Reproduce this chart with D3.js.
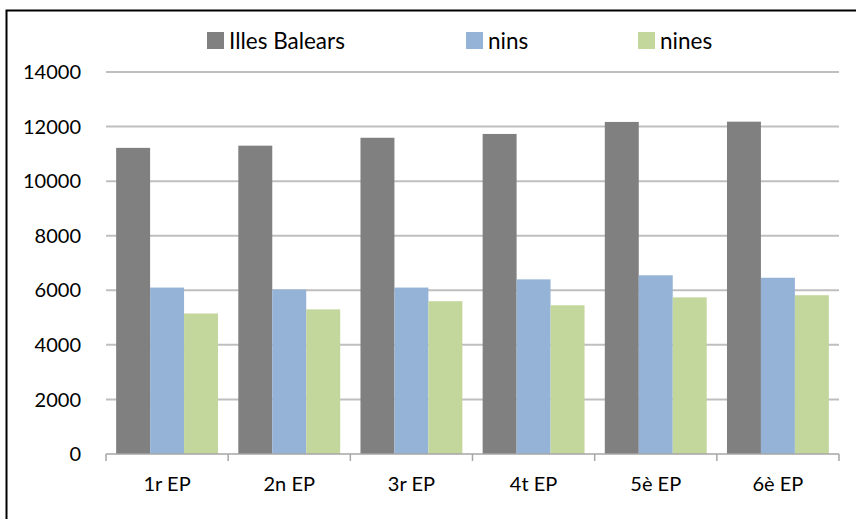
<!DOCTYPE html>
<html>
<head>
<meta charset="utf-8">
<script src="https://cdn.jsdelivr.net/npm/d3@7"></script>
<style>
  html, body { margin: 0; padding: 0; background: #fff; }
  svg { display: block; }
  text { font-family: Lato, "Open Sans", sans-serif; fill: #000; }
</style>
</head>
<body>
<svg id="chart" width="856" height="519"></svg>
<script>
const categories = ["1r EP", "2n EP", "3r EP", "4t EP", "5è EP", "6è EP"];
const seriesNames = ["Illes Balears", "nins", "nines"];
const illesBalears = [11220, 11300, 11590, 11730, 12170, 12180];
const nins = [6100, 6030, 6100, 6400, 6550, 6460];
const nines = [5150, 5300, 5600, 5450, 5740, 5820];
const yTicks = [0, 2000, 4000, 6000, 8000, 10000, 12000, 14000];
const colors = ["#808080", "#95B3D7", "#C3D69B"];

(function () {
const seriesValues = [illesBalears, nins, nines];
const data = categories.map((c, i) => ({
  cat: c,
  vals: seriesNames.map((s, j) => ({ key: s, value: seriesValues[j][i], color: colors[j] }))
}));

const svg = d3.select("#chart");

// outer border
svg.append("rect")
  .attr("x", 6.5).attr("y", 10.5)
  .attr("width", 860).attr("height", 520)
  .attr("fill", "none").attr("stroke", "#000").attr("stroke-width", 2);

const mLeft = 106, mRight = 839, mTop = 72, mBottom = 454;

const x0 = d3.scaleBand().domain(categories).range([mLeft, mRight])
  .paddingInner(0.166).paddingOuter(0.083);
const x1 = d3.scaleBand().domain(seriesNames).range([0, x0.bandwidth()]);
const y = d3.scaleLinear().domain([0, 14000]).range([mBottom, mTop]);

// gridlines
svg.append("g")
  .selectAll("line")
  .data(yTicks.filter(d => d > 0))
  .join("line")
  .attr("x1", mLeft).attr("x2", mRight)
  .attr("y1", d => y(d)).attr("y2", d => y(d))
  .attr("stroke", "#BFBFBF").attr("stroke-width", 2);

// y labels
svg.append("g")
  .selectAll("text")
  .data(yTicks)
  .join("text")
  .attr("x", 81).attr("y", d => y(d))
  .attr("dy", "0.36em")
  .attr("text-anchor", "end")
  .style("font-size", "20px")
  .text(d => d);

// bars
const groups = svg.append("g")
  .selectAll("g")
  .data(data)
  .join("g")
  .attr("transform", d => `translate(${x0(d.cat)},0)`);
groups.selectAll("rect")
  .data(d => d.vals)
  .join("rect")
  .attr("x", d => x1(d.key))
  .attr("width", x1.bandwidth())
  .attr("y", d => y(d.value))
  .attr("height", d => y(0) - y(d.value))
  .attr("fill", d => d.color);

// x axis baseline and ticks
const xAxisG = svg.append("g");
xAxisG.append("line")
  .attr("x1", mLeft).attr("x2", mRight)
  .attr("y1", mBottom).attr("y2", mBottom)
  .attr("stroke", "#A6A6A6").attr("stroke-width", 1.5);
const tickPos = categories.map(c => x0(c) - x0.step() * x0.paddingInner() / 2);
tickPos.push(mRight);
xAxisG.selectAll("line.tick")
  .data(tickPos)
  .join("line")
  .attr("class", "tick")
  .attr("x1", d => d).attr("x2", d => d)
  .attr("y1", mBottom).attr("y2", mBottom + 7)
  .attr("stroke", "#A6A6A6").attr("stroke-width", 1.5);
xAxisG.selectAll("text")
  .data(categories)
  .join("text")
  .attr("x", d => x0(d) + x0.bandwidth() / 2)
  .attr("y", 484)
  .attr("dy", "0.36em")
  .attr("text-anchor", "middle")
  .style("font-size", "20px")
  .text(d => d);

// legend
const legendX = [207, 466, 638];
const legend = svg.append("g")
  .selectAll("g")
  .data(seriesNames)
  .join("g")
  .attr("transform", (d, i) => `translate(${legendX[i]},32)`);
legend.append("rect")
  .attr("width", 17).attr("height", 17)
  .attr("fill", (d, i) => colors[i]);
legend.append("text")
  .attr("x", 22).attr("y", 8.5)
  .attr("dy", "0.36em")
  .style("font-size", "22.5px")
  .text(d => d);
})();
</script>
</body>
</html>
